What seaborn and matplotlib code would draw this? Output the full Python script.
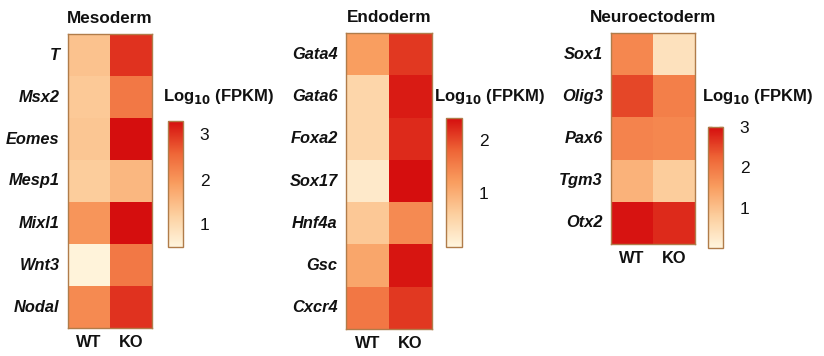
import numpy as np
import pandas as pd
import matplotlib
matplotlib.use("Agg")
import matplotlib.pyplot as plt
import seaborn as sns
from matplotlib.colors import LinearSegmentedColormap

sns.set_style("white")
plt.rcParams['font.family'] = ['Liberation Sans', 'DejaVu Sans']

conditions = ["WT", "KO"]

meso_genes = ["T", "Msx2", "Eomes", "Mesp1", "Mixl1", "Wnt3", "Nodal"]
meso_wt = [1.4, 1.3, 1.35, 1.25, 2.0, 0.55, 2.15]
meso_ko = [3.0, 2.35, 3.3, 1.55, 3.3, 2.35, 3.0]

endo_genes = ["Gata4", "Gata6", "Foxa2", "Sox17", "Hnf4a", "Gsc", "Cxcr4"]
endo_wt = [1.2, 0.5, 0.5, 0.2, 0.7, 1.1, 1.6]
endo_ko = [2.1, 2.3, 2.2, 2.4, 1.4, 2.35, 2.1]

neuro_genes = ["Sox1", "Olig3", "Pax6", "Tgm3", "Otx2"]
neuro_wt = [1.8, 2.5, 1.85, 1.2, 2.95]
neuro_ko = [0.4, 1.9, 1.8, 0.8, 2.75]

titles = ["Mesoderm", "Endoderm", "Neuroectoderm"]
cbar_label = r"Log$_{\mathbf{10}}$ (FPKM)"

cmap = LinearSegmentedColormap.from_list(
    "fpkm", ["#FFF5DE", "#FCD0A0", "#F99E60", "#EE6436", "#D50E0E"])

edge = "#B07C4A"

fig = plt.figure(figsize=(8.24, 3.56), dpi=100)

panels = [
    dict(genes=meso_genes, wt=meso_wt, ko=meso_ko, vmin=0.5, vmax=3.3, ticks=[1, 2, 3],
         hm=[68, 152, 34, 328], cb=[168, 183, 121, 247], lab=(163, 97)),
    dict(genes=endo_genes, wt=endo_wt, ko=endo_ko, vmin=0.0, vmax=2.4, ticks=[1, 2],
         hm=[346, 432, 33, 329], cb=[446, 462, 118, 247], lab=(434, 97)),
    dict(genes=neuro_genes, wt=neuro_wt, ko=neuro_ko, vmin=0.0, vmax=3.0, ticks=[1, 2, 3],
         hm=[611, 695, 33, 244], cb=[708, 723, 127, 248], lab=(702, 97)),
]

W, H = 824, 356

def rect(x0, x1, y0, y1):
    return [x0 / W, 1 - y1 / H, (x1 - x0) / W, (y1 - y0) / H]

for title, p in zip(titles, panels):
    df = pd.DataFrame({"WT": p["wt"], "KO": p["ko"]}, index=p["genes"])[conditions]
    ax = fig.add_axes(rect(*p["hm"]))
    cax = fig.add_axes(rect(*p["cb"]))
    sns.heatmap(df, ax=ax, cbar_ax=cax, cmap=cmap, vmin=p["vmin"], vmax=p["vmax"],
                linewidths=0, cbar_kws={"ticks": p["ticks"]})
    for s in ax.spines.values():
        s.set_visible(True)
        s.set_color(edge)
        s.set_linewidth(1.0)
    ax.tick_params(length=0, pad=6)
    ax.set_yticklabels(p["genes"], rotation=0, fontsize=11.8, fontweight="bold",
                       fontstyle="italic", color="#111111")
    ax.set_xticklabels(conditions, fontsize=11.8, fontweight="bold", color="#111111")
    ax.tick_params(axis="x", pad=5)
    ax.set_xlabel("")
    ax.set_ylabel("")
    ax.set_title(title, fontsize=12.3, fontweight="bold", pad=8, color="#111111")

    cb = ax.collections[0].colorbar
    cb.outline.set_edgecolor(edge)
    cb.outline.set_linewidth(1.0)
    cax.tick_params(which="both", direction="in", length=3, width=1, color=edge,
                    left=True, right=True, labelleft=False, labelright=True,
                    labelsize=12.5, pad=12)
    for t in cax.get_yticklabels():
        t.set_color("#111111")
    fig.text(p["lab"][0] / W, 1 - p["lab"][1] / H, cbar_label, fontsize=12,
             fontweight="bold", ha="left", va="center", color="#111111")

fig.savefig("out.png", dpi=100)
